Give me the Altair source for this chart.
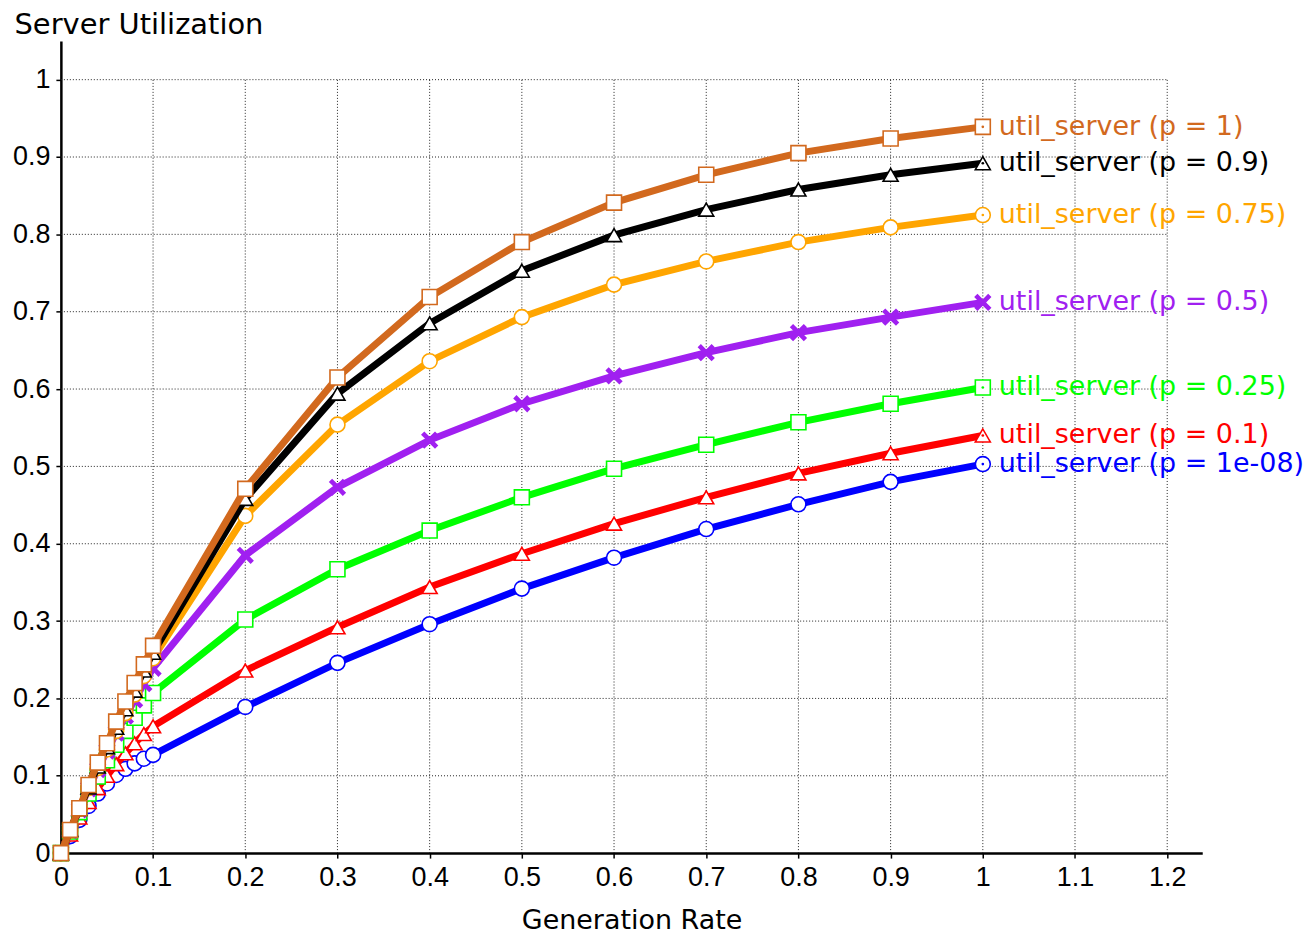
import altair as alt
import pandas as pd

# ---------------- data ----------------
x_vals = [0, 0.01, 0.02, 0.03, 0.04, 0.05, 0.06, 0.07, 0.08, 0.09, 0.1,
          0.2, 0.3, 0.4, 0.5, 0.6, 0.7, 0.8, 0.9, 1.0]

u_p1 = [0, 0.030, 0.058, 0.088, 0.117, 0.142, 0.170, 0.196, 0.220, 0.244, 0.268,
        0.471, 0.615, 0.719, 0.790, 0.841, 0.877, 0.905, 0.924, 0.939]
u_p09 = [0, 0.030, 0.057, 0.085, 0.112, 0.137, 0.162, 0.186, 0.210, 0.236, 0.259,
         0.458, 0.594, 0.685, 0.753, 0.799, 0.832, 0.858, 0.877, 0.892]
u_p075 = [0, 0.029, 0.057, 0.084, 0.110, 0.134, 0.158, 0.181, 0.205, 0.229, 0.252,
          0.436, 0.554, 0.636, 0.693, 0.735, 0.765, 0.790, 0.809, 0.825]
u_p05 = [0, 0.029, 0.056, 0.083, 0.108, 0.132, 0.155, 0.177, 0.198, 0.219, 0.239,
         0.385, 0.473, 0.534, 0.581, 0.617, 0.647, 0.673, 0.693, 0.712]
u_p025 = [0, 0.028, 0.053, 0.077, 0.099, 0.120, 0.140, 0.158, 0.175, 0.191, 0.207,
          0.302, 0.367, 0.417, 0.460, 0.497, 0.528, 0.557, 0.581, 0.602]
u_p01 = [0, 0.024, 0.046, 0.066, 0.084, 0.100, 0.115, 0.129, 0.142, 0.154, 0.164,
         0.236, 0.292, 0.344, 0.387, 0.426, 0.460, 0.491, 0.517, 0.540]
u_p1e8 = [0, 0.022, 0.043, 0.061, 0.077, 0.090, 0.101, 0.109, 0.116, 0.122, 0.127,
          0.189, 0.246, 0.296, 0.342, 0.382, 0.419, 0.451, 0.480, 0.503]

# drawing order: first drawn at bottom
series_labels = ["util_server (p = 1e-08)", "util_server (p = 0.1)", "util_server (p = 0.25)",
                 "util_server (p = 0.5)", "util_server (p = 0.75)", "util_server (p = 0.9)",
                 "util_server (p = 1)"]
series_values = [u_p1e8, u_p01, u_p025, u_p05, u_p075, u_p09, u_p1]
series_colors = ["#0000FF", "#FF0000", "#00FF00", "#A020F0", "#FFA500", "#000000", "#D2691E"]
X_SHAPE = "M-1,-0.62L-0.62,-1L0,-0.38L0.62,-1L1,-0.62L0.38,0L1,0.62L0.62,1L0,0.38L-0.62,1L-1,0.62L-0.38,0Z"
series_shapes = ["circle", "triangle-up", "square", X_SHAPE, "circle", "triangle-up", "square"]
series_filled = [False, False, False, True, False, False, False]

x_ticks = [0, 0.1, 0.2, 0.3, 0.4, 0.5, 0.6, 0.7, 0.8, 0.9, 1.0, 1.1, 1.2]
y_ticks = [0, 0.1, 0.2, 0.3, 0.4, 0.5, 0.6, 0.7, 0.8, 0.9, 1.0]
x_grid = [0.1, 0.2, 0.3, 0.4, 0.5, 0.6, 0.7, 0.8, 0.9, 1.0, 1.1, 1.2]
y_grid = [0.1, 0.2, 0.3, 0.4, 0.5, 0.6, 0.7, 0.8, 0.9, 1.0]

# ---------------- scales / axes ----------------
XS = alt.Scale(domain=[0, 1.238], nice=False, zero=False)
YS = alt.Scale(domain=[0, 1.05], nice=False, zero=False)

x_axis = alt.Axis(values=x_ticks, format="~g", title="Generation Rate", grid=False,
                  domainColor="black", domainWidth=2.5, tickColor="black", tickSize=5,
                  tickWidth=1.5, labelFont="Liberation Sans", labelFontSize=27,
                  labelColor="black", labelPadding=6, labelFlush=False, labelOverlap=False,
                  titleFont="DejaVu Sans", titleFontSize=27, titleFontWeight="normal",
                  titleColor="black", titleY=76, titleBaseline="alphabetic")
y_axis = alt.Axis(values=y_ticks, format="~g", title="Server Utilization", grid=False,
                  domainColor="black", domainWidth=2.5, tickColor="black", tickSize=5,
                  tickWidth=1.5, labelFont="Liberation Sans", labelFontSize=27,
                  labelColor="black", labelPadding=6, labelFlush=False, labelOverlap=False,
                  titleFont="DejaVu Sans", titleFontSize=29, titleFontWeight="normal",
                  titleColor="black", titleAngle=0, titleAlign="left", titleX=-47,
                  titleY=-8, titleBaseline="alphabetic")

layers = []

# grid lines (limited to the 0..1.2 x 0..1 box)
vgrid = alt.Chart(pd.DataFrame({"gx": x_grid})).mark_rule(
    color="#222222", strokeWidth=1, strokeDash=[1, 2]
).encode(
    x=alt.X("gx:Q", scale=XS, axis=x_axis),
    y=alt.YDatum(0, scale=YS, axis=y_axis),
    y2=alt.Y2Datum(1),
)
hgrid = alt.Chart(pd.DataFrame({"gy": y_grid})).mark_rule(
    color="#222222", strokeWidth=1, strokeDash=[1, 2]
).encode(
    y=alt.Y("gy:Q", scale=YS, axis=y_axis),
    x=alt.XDatum(0, scale=XS, axis=x_axis),
    x2=alt.X2Datum(1.2),
)
layers += [vgrid, hgrid]

for label, vals, col, shp, filled in zip(series_labels, series_values, series_colors,
                                         series_shapes, series_filled):
    df = pd.DataFrame({"x": x_vals, "y": vals, "series": label})
    base = alt.Chart(df).encode(
        x=alt.X("x:Q", scale=XS, axis=x_axis),
        y=alt.Y("y:Q", scale=YS, axis=y_axis),
    )
    line = base.mark_line(color=col, strokeWidth=7)
    if filled:
        pts = base.mark_point(shape=shp, filled=True, color=col, size=300, opacity=1)
    else:
        pts = base.mark_point(shape=shp, filled=True, fill="white", stroke=col,
                              strokeWidth=1.6, size=225, opacity=1)
    end = base.transform_filter(alt.datum.x == 1)
    txt = end.mark_text(align="left", baseline="middle", dx=16, font="DejaVu Sans",
                        fontSize=27, color=col).encode(text="series:N")
    layers += [line, pts]
    if not filled:
        layers.append(end.mark_point(shape="circle", filled=True, color=col, size=7, opacity=1))
    layers.append(txt)

chart = alt.layer(*layers).properties(
    width=1144, height=814,
    autosize=alt.AutoSizeParams(type="none"),
    padding={"left": 53, "top": 32, "right": 103, "bottom": 80},
    background="white",
).configure_view(stroke=None)

chart.save("out.html", embed_options={"renderer": "svg", "actions": False})
